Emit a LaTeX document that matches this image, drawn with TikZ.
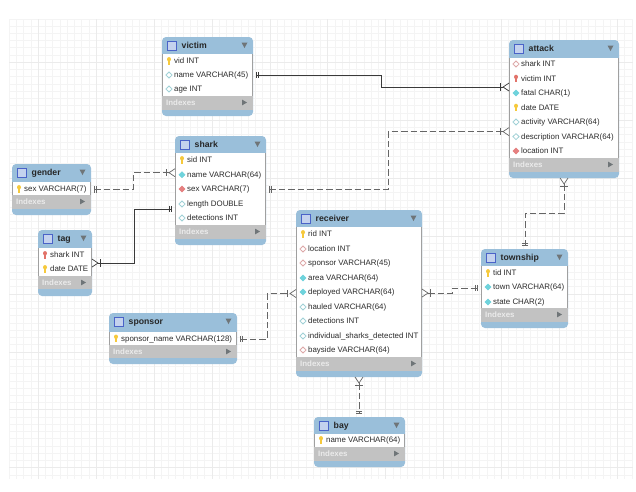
\documentclass[tikz,border=0pt]{standalone}
\usepackage{fontspec}
\setmainfont{Liberation Sans}
\usetikzlibrary{decorations.markings}
\definecolor{headblue}{HTML}{9ABFDA}
\definecolor{indexgrey}{HTML}{C2C2C2}
\definecolor{gridminor}{HTML}{F4F4F4}
\definecolor{gridmajor}{HTML}{EBEBEB}
\definecolor{sidegrey}{HTML}{A0A0A0}
\definecolor{triangrey}{HTML}{6F7578}
\definecolor{linedark}{HTML}{3A3A3A}
\definecolor{linedash}{HTML}{666666}
\definecolor{textdark}{HTML}{2B2B2B}
\definecolor{keygold}{HTML}{F6C93C}
\definecolor{keyred}{HTML}{E2736A}
\definecolor{tealfill}{HTML}{6FD3DC}
\definecolor{tealline}{HTML}{9FD0D6}
\definecolor{pinkline}{HTML}{DDA8A8}
\definecolor{redfill}{HTML}{E58080}
\definecolor{iconfill}{HTML}{C4D2EE}
\definecolor{iconline}{HTML}{4A63C8}
\tikzset{
  tablebox/.style={anchor=north west,inner sep=0pt,outer sep=0pt,rounded corners=4pt,fill=headblue},
  titletext/.style={anchor=west,inner sep=0pt,font=\fontsize{8.7}{10}\selectfont\bfseries,text=black!85,text height=6.2pt,text depth=1.8pt},
  rowtext/.style={anchor=west,inner sep=0pt,font=\fontsize{7.9}{9}\selectfont,text=textdark,text height=5.6pt,text depth=1.7pt},
  indextext/.style={anchor=west,inner sep=0pt,font=\fontsize{7.9}{9}\selectfont\bfseries,text=white!92!black,text height=5.6pt,text depth=1.7pt},
  plainmark/.style={fill=white,draw=tealline,line width=.8pt},
  tealmark/.style={fill=tealfill,draw=tealfill,line width=.5pt},
  pinkmark/.style={fill=white,draw=pinkline,line width=.8pt},
  redmark/.style={fill=redfill,draw=redfill,line width=.5pt},
  tickmark/.style={solid,shorten >=0pt,shorten <=0pt,line width=.7pt},
  link/.style={draw=linedark,line width=.8pt,shorten <=3pt,shorten >=6pt},
  dashlink/.style={link,draw=linedash,line width=.9pt,dash pattern=on 6.5pt off 3pt},
  startbars/.style={postaction={decorate,decoration={markings,
    mark=at position 3.5pt with {\draw[tickmark] (0,-3.2)--(0,3.2);},
    mark=at position 5.8pt with {\draw[tickmark] (0,-3.2)--(0,3.2);}}}},
  endbars/.style={shorten >=3pt,postaction={decorate,decoration={markings,
    mark=at position -5.8pt with {\draw[tickmark] (0,-3.2)--(0,3.2);},
    mark=at position -3.5pt with {\draw[tickmark] (0,-3.2)--(0,3.2);}}}},
  endfoot/.style={postaction={decorate,decoration={markings,
    mark=at position -8.5pt with {\draw[tickmark] (0,-3.6)--(0,3.6);},
    mark=at position -6pt with {\draw[tickmark] (6,-4)--(0,0)--(6,4);}}}},
  startfoot/.style={shorten <=6pt,postaction={decorate,decoration={markings,
    mark=at position 6pt with {\draw[tickmark] (-6,-4)--(0,0)--(-6,4);},
    mark=at position 8.5pt with {\draw[tickmark] (0,-3.6)--(0,3.6);}}}},
}
% Table frame: name, x1, y1, x2, y2, header bottom, rows bottom, band bottom, title
\newcommand\tablebody[9]{%
  \node[tablebox,minimum width=#4pt-#2pt,minimum height=#5pt-#3pt] (#1) at (#2,#3) {};
  \fill[sidegrey] (#2,#6) rectangle (#4,#7);
  \fill[white] (#2+.8,#6) rectangle (#4-.8,#7);
  \fill[indexgrey] (#2,#7) rectangle (#4,#8);
  \filldraw[fill=iconfill,draw=iconline,line width=.6pt] (#2+4.8,#3+4) rectangle (#2+14,#3+13);
  \node[titletext] (#1Title) at (#2+19.5,#3+9.6) {#9};
  \fill[triangrey] (#4-11.5,#3+5.5) -- (#4-5.5,#3+5.5) -- (#4-8.5,#3+11) -- cycle;
  \node[indextext] (#1Indexes) at (#2+4,#7+7.6) {Indexes};
  \fill[triangrey] (#4-11,#7+3.6) -- (#4-11,#7+9.4) -- (#4-6,#7+6.5) -- cycle;
}
% Column row marked with a key: colour, name, table left, row centre, text
\newcommand\keyrow[5]{%
  \fill[#1] (#3+7,#4-1.7) ellipse (2 and 2.2);
  \fill[#1] (#3+6.2,#4-1) rectangle (#3+7.8,#4+3.6);
  \node[rowtext] (#2) at (#3+12,#4+.8) {#5};
}
% Column row marked with a diamond: style, name, table left, row centre, text
\newcommand\diarow[5]{%
  \path[#1] (#3+3.9,#4) -- (#3+7,#4-3) -- (#3+10.1,#4) -- (#3+7,#4+3) -- cycle;
  \node[rowtext] (#2) at (#3+12,#4+.8) {#5};
}
\begin{document}
\begin{tikzpicture}[x=1pt,y=-1pt]
\useasboundingbox (0,0) rectangle (636,491);
\fill[white] (0,0) rectangle (636,491);
% drafting grid
\foreach \k in {-4,...,82} \draw[gridminor,line width=.9pt] (38.3+\k*7.24,19) -- (38.3+\k*7.24,479);
\foreach \k in {-6,...,57} \draw[gridminor,line width=.9pt] (9.3,62.4+\k*7.24) -- (633,62.4+\k*7.24);
\foreach \k in {0,...,10} \draw[gridmajor,line width=.9pt] (38.3+\k*57.92,19) -- (38.3+\k*57.92,479);
\foreach \k in {0,...,7} \draw[gridmajor,line width=.9pt] (9.3,62.4+\k*57.92) -- (633,62.4+\k*57.92);

% tables
\tablebody{victim}{162}{37}{253}{116}{54}{96}{110}{victim}
\keyrow{keygold}{vid}{162}{61}{vid INT}
\diarow{plainmark}{vname}{162}{75}{name VARCHAR(45)}
\diarow{plainmark}{vage}{162}{89}{age INT}

\tablebody{attack}{509}{40}{619}{178}{58}{158}{172}{attack}
\diarow{pinkmark}{ashark}{509}{64}{shark INT}
\keyrow{keyred}{avictim}{509}{78.6}{victim INT}
\diarow{tealmark}{afatal}{509}{93}{fatal CHAR(1)}
\keyrow{keygold}{adate}{509}{107.6}{date DATE}
\diarow{plainmark}{aactivity}{509}{122}{activity VARCHAR(64)}
\diarow{plainmark}{adescription}{509}{136.6}{description VARCHAR(64)}
\diarow{redmark}{alocation}{509}{151}{location INT}

\tablebody{shark}{175}{136}{266}{245}{153}{225}{239}{shark}
\keyrow{keygold}{sid}{175}{160}{sid INT}
\diarow{tealmark}{sname}{175}{174.7}{name VARCHAR(64)}
\diarow{redmark}{ssex}{175}{189}{sex VARCHAR(7)}
\diarow{plainmark}{slength}{175}{204}{length DOUBLE}
\diarow{plainmark}{sdetections}{175}{218}{detections INT}

\tablebody{gender}{12}{164}{91}{215}{182}{195}{209}{gender}
\keyrow{keygold}{gsex}{12}{189}{sex VARCHAR(7)}

\tablebody{tag}{38}{230}{92}{296}{248}{276}{289}{tag}
\keyrow{keyred}{tshark}{38}{255}{shark INT}
\keyrow{keygold}{tdate}{38}{269}{date DATE}

\tablebody{receiver}{296}{210}{422}{377}{227}{357}{371}{receiver}
\keyrow{keygold}{rid}{296}{234}{rid INT}
\diarow{pinkmark}{rlocation}{296}{249}{location INT}
\diarow{pinkmark}{rsponsor}{296}{263}{sponsor VARCHAR(45)}
\diarow{tealmark}{rarea}{296}{278}{area VARCHAR(64)}
\diarow{tealmark}{rdeployed}{296}{292}{deployed VARCHAR(64)}
\diarow{plainmark}{rhauled}{296}{307}{hauled VARCHAR(64)}
\diarow{plainmark}{rdetections}{296}{321}{detections INT}
\diarow{plainmark}{rindividual}{296}{336}{individual\_sharks\_detected INT}
\diarow{pinkmark}{rbayside}{296}{350}{bayside VARCHAR(64)}

\tablebody{township}{481}{249}{568}{328}{266}{308}{322}{township}
\keyrow{keygold}{ttid}{481}{273}{tid INT}
\diarow{tealmark}{ttown}{481}{287}{town VARCHAR(64)}
\diarow{tealmark}{tstate}{481}{302}{state CHAR(2)}

\tablebody{sponsor}{109}{313}{237}{364}{332}{345}{358}{sponsor}
\keyrow{keygold}{spname}{109}{338.5}{sponsor\_name VARCHAR(128)}

\tablebody{bay}{314}{417}{405}{467}{434}{447}{461}{bay}
\keyrow{keygold}{bname}{314}{440}{name VARCHAR(64)}

% relationships
\draw[link,startbars,endfoot] (victim.east |- 0,75) -- (381,75) -- (381,87) -- (attack.west |- 0,87);
\draw[dashlink,startbars,endfoot] (shark.east |- 0,189.5) -- (388,189.5) -- (388,131.6) -- (attack.west |- 0,131.6);
\draw[dashlink,startbars,endfoot] (gender.east |- 0,189.5) -- (133,189.5) -- (133,172.7) -- (shark.west |- 0,172.7);
\draw[link,startfoot,endbars] (tag.east |- 0,263) -- (134,263) -- (134,209) -- (shark.west |- 0,209);
\draw[dashlink,startbars,endfoot] (sponsor.east |- 0,339) -- (267,339) -- (267,293.5) -- (receiver.west |- 0,293.5);
\draw[dashlink,startfoot,endbars] (receiver.east |- 0,293) -- (452,293) -- (452,288) -- (township.west |- 0,288);
\draw[dashlink,startfoot,endbars] (attack.south -| 564,0) -- (564,213) -- (525,213) -- (township.north -| 525,0);
\draw[dashlink,startfoot,endbars] (receiver.south -| 359,0) -- (bay.north -| 359,0);
\end{tikzpicture}
\end{document}
